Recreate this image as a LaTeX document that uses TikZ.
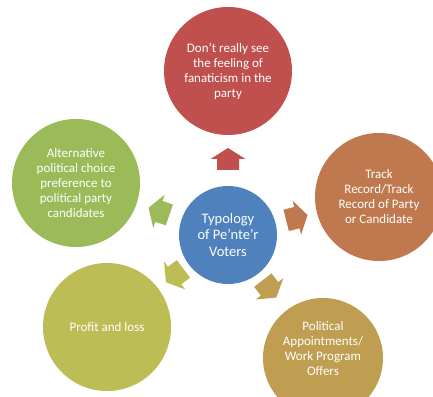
\documentclass[tikz,border=0pt]{standalone}
\usepackage{fontspec}
\setmainfont{Carlito}
\usetikzlibrary{calc}
\definecolor{blau}{HTML}{4F81BD}
\definecolor{rot}{HTML}{C0504D}
\definecolor{orange}{HTML}{C0784F}
\definecolor{gruen}{HTML}{9BBB59}
\definecolor{oliv}{HTML}{BDBD56}
\definecolor{gold}{HTML}{BF9E52}
\tikzset{
  kreis/.style={circle, inner sep=0pt, minimum size=128pt, text=white,
    align=center, font=\fontsize{13}{15}\selectfont}
}
\begin{document}
\begin{tikzpicture}[x=1pt,y=1pt]
        \useasboundingbox (0,0) rectangle (433,396);
        \clip (0,0) rectangle (433,396);
        % Mitte
        \node[kreis, fill=blau, minimum size=98pt,
          font=\fontsize{14.5}{16.7}\selectfont] (mitte) at (228,161)
          {Typology\\of Pe’nte’r\\Voters};
        % Aeussere Kreise
        \node[kreis, fill=rot] (oben) at (228,325)
          {Don’t really see\\the feeling of\\fanaticism in the\\party};
        \node[kreis, fill=orange] (rechts) at (379,199)
          {Track\\Record/Track\\Record of Party\\or Candidate};
        \node[kreis, fill=gruen] (links) at (76,213)
          {Alternative\\political choice\\preference to\\political party\\candidates};
        \node[kreis, fill=oliv] (untenlinks) at (107,69) {Profit and loss};
        \node[kreis, fill=gold, minimum size=120pt,
          label={[text=white, align=center, font=\fontsize{13}{15}\selectfont,
          yshift=9pt]center:Political\\Appointments/\\Work Program\\Offers}]
          (untenrechts) at (323,38) {};
        % Pfeile
        \foreach \ziel/\abst/\farbe in {oben/76/rot, rechts/71/orange,
          links/73/gruen, untenlinks/67/oliv, untenrechts/68/gold} {
          \pgfmathanglebetweenpoints{\pgfpointanchor{mitte}{center}}%
            {\pgfpointanchor{\ziel}{center}}
          \let\winkel\pgfmathresult
          \fill[\farbe, shift={($(mitte.center)!\abst pt!(\ziel.center)$)},
            rotate=\winkel]
            (-11,-11) -- (0,-11) -- (0,-17.5) -- (11,0) -- (0,17.5)
            -- (0,11) -- (-11,11) -- cycle;
        }
    \end{tikzpicture}
\end{document}
